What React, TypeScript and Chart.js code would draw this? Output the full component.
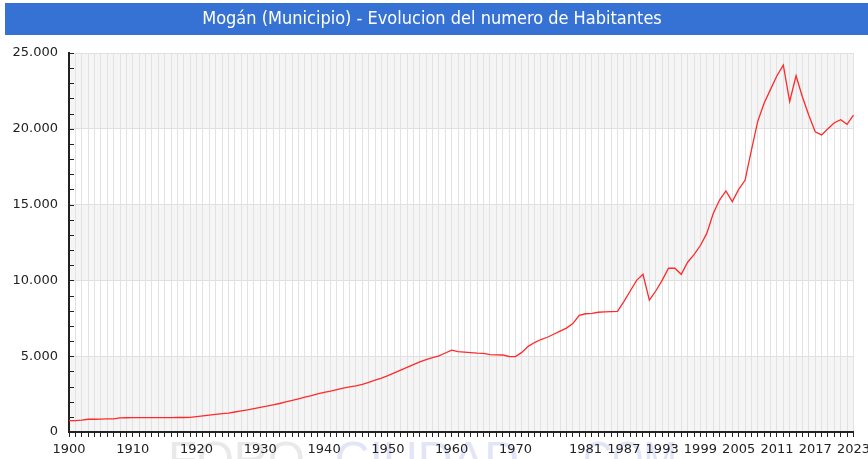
import React, { useEffect, useRef } from 'react';
import { Chart, registerables } from 'chart.js';

Chart.register(...registerables);

const TITLE = 'Mogán (Municipio) - Evolucion del numero de Habitantes';

const years: string[] = [];
for (let yr = 1900; yr <= 2023; yr++) years.push(String(yr));

const population: number[] = [
  // 1900-1909
  750, 750, 790, 840, 840, 850, 860, 870, 930, 940,
  // 1910-1919
  945, 945, 945, 950, 950, 950, 950, 955, 955, 960,
  // 1920-1929
  1010, 1060, 1110, 1160, 1210, 1250, 1320, 1390, 1460, 1540,
  // 1930-1939
  1620, 1700, 1790, 1880, 1980, 2080, 2190, 2300, 2400, 2510,
  // 1940-1949
  2610, 2700, 2800, 2900, 2970, 3040, 3140, 3280, 3420, 3560,
  // 1950-1959
  3720, 3900, 4080, 4260, 4440, 4620, 4780, 4900, 5020, 5210,
  // 1960-1969
  5400, 5300, 5270, 5240, 5200, 5190, 5100, 5090, 5080, 4980,
  // 1970-1979
  4970, 5250, 5650, 5900, 6100, 6250, 6450, 6650, 6850, 7150,
  // 1980-1989
  7700, 7800, 7830, 7900, 7930, 7940, 7950, 8600, 9300, 10000,
  // 1990-1999
  10400, 8700, 9300, 10000, 10800, 10800, 10400, 11200, 11700, 12300,
  // 2000-2009
  13100, 14400, 15300, 15900, 15200, 16000, 16600, 18600, 20500, 21700,
  // 2010-2019
  22600, 23500, 24200, 21800, 23500, 22100, 20900, 19800, 19600, 20000,
  // 2020-2023
  20400, 20600, 20300, 20900,
];

const shownYears: string[] = [
  '1900', '1910', '1920', '1930', '1940', '1950', '1960', '1970',
  '1981', '1987', '1993', '1999', '2005', '2011', '2017', '2023',
];

const Y_MAX = 25000;
const Y_MAJOR = 5000;
const Y_MINOR = 1000;
const shadedBands: [number, number][] = [[0, 5000], [10000, 15000], [20000, 25000]];

const fmt = (v: number) => String(v).replace(/\B(?=(\d{3})+(?!\d))/g, '.');

const decor = {
  id: 'decor',
  beforeDraw(chart: any) {
    const { ctx, chartArea: a, scales } = chart;
    const y = scales.y;
    ctx.save();
    // title bar
    ctx.fillStyle = '#3672d4';
    ctx.fillRect(5, 3, 870, 32);
    ctx.fillStyle = '#ffffff';
    ctx.font = '18px "DejaVu Sans Condensed", "DejaVu Sans"';
    ctx.textAlign = 'center';
    ctx.textBaseline = 'middle';
    ctx.fillText(TITLE, 432, 19);
    // shaded bands
    ctx.fillStyle = '#f5f5f5';
    for (const [lo, hi] of shadedBands) {
      const top = y.getPixelForValue(hi);
      const bot = y.getPixelForValue(lo);
      ctx.fillRect(a.left, top, a.right - a.left, bot - top);
    }
    // watermark
    ctx.textAlign = 'left';
    ctx.textBaseline = 'alphabetic';
    ctx.font = '48px "Liberation Sans"';
    ctx.fillStyle = '#e9e9e9';
    ctx.fillText('FORO', 168, 475, 137);
    ctx.fillStyle = '#e2e5f8';
    ctx.fillText('CIUDAD', 335, 475, 225);
    ctx.fillText('.COM', 572, 475, 105);
    ctx.restore();
  },
  afterDraw(chart: any) {
    const { ctx, chartArea: a, scales } = chart;
    const y = scales.y;
    ctx.save();
    ctx.strokeStyle = '#222';
    ctx.lineWidth = 1;
    for (let v = 0; v <= Y_MAX; v += Y_MINOR) {
      const py = Math.round(y.getPixelForValue(v)) + 0.5;
      ctx.beginPath();
      ctx.moveTo(a.left, py);
      ctx.lineTo(a.left + 5, py);
      ctx.stroke();
    }
    ctx.restore();
  },
};

export default function App() {
  const ref = useRef<HTMLCanvasElement | null>(null);
  useEffect(() => {
    if (!ref.current) return;
    const chart = new Chart(ref.current, {
      type: 'line',
      data: {
        labels: years,
        datasets: [
          {
            label: 'Habitantes',
            data: population,
            borderColor: '#ff2a2a',
            borderWidth: 1.3,
            pointRadius: 0,
            fill: false,
            tension: 0,
          },
        ],
      },
      options: {
        responsive: false,
        animation: false,
        layout: { padding: { top: 53, right: 16, left: 0, bottom: 0 } },
        plugins: { legend: { display: false }, title: { display: false }, tooltip: { enabled: false } },
        scales: {
          x: {
            type: 'category',
            offset: false,
            afterFit: (s: any) => { s.height = 27; },
            grid: {
              color: '#e2e2e2',
              tickColor: '#222',
              tickLength: 5,
              drawTicks: true,
            },
            border: { color: '#222', width: 2 },
            ticks: {
              autoSkip: false,
              maxRotation: 0,
              minRotation: 0,
              padding: 5,
              color: '#222',
              font: { family: '"DejaVu Sans"', size: 13 },
              callback: function (this: any, value: any) {
                const lab = years[value as number];
                return shownYears.includes(lab) ? lab : '';
              },
            },
          },
          y: {
            min: 0,
            max: Y_MAX,
            afterFit: (s: any) => { s.width = 69; },
            grid: {
              color: (c: any) => (c.tick && c.tick.value % Y_MAJOR === 0 ? '#e0e0e0' : 'rgba(0,0,0,0)'),
              drawTicks: false,
            },
            border: { color: '#222', width: 2 },
            ticks: {
              stepSize: Y_MINOR,
              autoSkip: false,
              padding: 11,
              color: '#222',
              font: { family: '"DejaVu Sans"', size: 13 },
              callback: (v: any) => (Number(v) % Y_MAJOR === 0 ? fmt(Number(v)) : ''),
            },
          },
        },
      },
      plugins: [decor],
    });
    return () => chart.destroy();
  }, []);
  return (
    <div style={{ position: 'absolute', left: 0, top: 0, width: 868, height: 459, overflow: 'hidden', background: '#fff' }}>
      <canvas ref={ref} width={875} height={459} style={{ display: 'block' }} />
    </div>
  );
}
